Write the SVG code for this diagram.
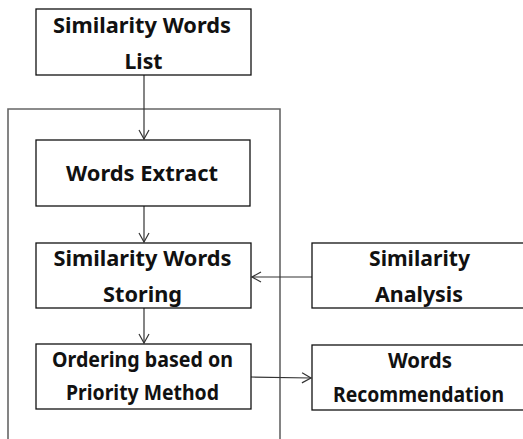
<svg xmlns="http://www.w3.org/2000/svg" width="523" height="439" viewBox="0 0 523 439">
<defs>
<marker id="arr" markerWidth="12" markerHeight="12" refX="10" refY="6" orient="auto" markerUnits="userSpaceOnUse">
<path d="M1,1 L10,6 L1,11" fill="none" stroke="#333" stroke-width="1.2"/>
</marker>
</defs>
<style>
.box{fill:#fff;stroke:#111;stroke-width:1.3}
.frame{fill:none;stroke:#666;stroke-width:1.6}
.t{font-family:"Noto Sans","Open Sans",sans-serif;font-weight:bold;font-size:21.5px;fill:#111;text-anchor:middle}
.c{stroke:#333;stroke-width:1.2;fill:none}
</style>
<rect width="523" height="439" fill="#fff"/>
<g id="container"><path class="frame" d="M8,440 V109 H280 V440"/></g>
<g id="connectors">
<line class="c" x1="144" y1="75" x2="144" y2="139" marker-end="url(#arr)"/>
<line class="c" x1="144" y1="206" x2="144" y2="242" marker-end="url(#arr)"/>
<line class="c" x1="144" y1="308" x2="144" y2="343" marker-end="url(#arr)"/>
<line class="c" x1="312" y1="277" x2="252" y2="277" marker-end="url(#arr)"/>
<line class="c" x1="251" y1="377" x2="311" y2="378" marker-end="url(#arr)"/>
</g>
<g id="n-list"><rect class="box" x="36" y="9" width="215" height="66"/>
<text class="t" x="142" y="33" textLength="178" lengthAdjust="spacingAndGlyphs">Similarity Words</text><text class="t" x="143.5" y="69" textLength="38" lengthAdjust="spacingAndGlyphs">List</text></g>
<g id="n-extract"><rect class="box" x="36" y="140" width="214" height="66"/>
<text class="t" x="142" y="181" textLength="152" lengthAdjust="spacingAndGlyphs">Words Extract</text></g>
<g id="n-storing"><rect class="box" x="36" y="243" width="215" height="65"/>
<text class="t" x="142.5" y="266" textLength="178" lengthAdjust="spacingAndGlyphs">Similarity Words</text><text class="t" x="142.5" y="302" textLength="79" lengthAdjust="spacingAndGlyphs">Storing</text></g>
<g id="n-ordering"><rect class="box" x="36" y="344" width="215" height="65"/>
<text class="t" x="142.5" y="367" textLength="181" lengthAdjust="spacingAndGlyphs">Ordering based on</text><text class="t" x="142.5" y="400" textLength="153" lengthAdjust="spacingAndGlyphs">Priority Method</text></g>
<g id="n-analysis"><rect class="box" x="312" y="243" width="214" height="65"/>
<text class="t" x="419.5" y="266" textLength="101" lengthAdjust="spacingAndGlyphs">Similarity</text><text class="t" x="419" y="302" textLength="88" lengthAdjust="spacingAndGlyphs">Analysis</text></g>
<g id="n-recommend"><rect class="box" x="312" y="345" width="214" height="65"/>
<text class="t" x="420" y="368" textLength="64" lengthAdjust="spacingAndGlyphs">Words</text><text class="t" x="418.5" y="402" textLength="171" lengthAdjust="spacingAndGlyphs">Recommendation</text></g>
</svg>
